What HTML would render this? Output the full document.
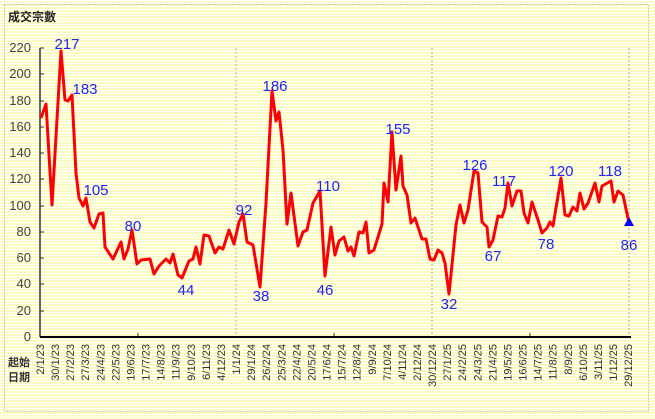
<!DOCTYPE html>
<html><head><meta charset="utf-8"><style>
html,body{margin:0;padding:0;background:#fff;}
#c{position:relative;width:655px;height:419px;overflow:hidden;background:repeating-linear-gradient(to bottom,#ffffff 0px,#ffffff 1px,#fbfbc4 1px,#fbfbc4 3px);}
svg{position:absolute;left:0;top:0;}
</style></head><body><div id="c">
<svg width="655" height="419" xmlns="http://www.w3.org/2000/svg" font-family="Liberation Sans, 'Noto Sans CJK TC', sans-serif">
<rect x="4.5" y="4.5" width="644" height="407" fill="none" stroke="#999" stroke-dasharray="1,2"/>
<text x="8" y="21" font-size="12" font-weight="bold" fill="#222" font-family="'Noto Sans CJK TC', sans-serif">成交宗數</text>
<g stroke="#aaa" stroke-dasharray="2,2">
<line x1="236" y1="48" x2="236" y2="337"/><line x1="432" y1="48" x2="432" y2="337"/><line x1="629" y1="48" x2="629" y2="337"/>
</g>
<g font-size="13" fill="#444" text-anchor="end">
<text x="31" y="52">220</text><text x="31" y="78">200</text><text x="31" y="105">180</text><text x="31" y="131">160</text><text x="31" y="157">140</text><text x="31" y="183">120</text><text x="31" y="210">100</text><text x="31" y="236">80</text><text x="31" y="262">60</text><text x="31" y="288">40</text><text x="31" y="315">20</text><text x="31" y="341">0</text>
</g>
<g stroke="#333" stroke-width="1">
<line x1="40" y1="48" x2="40" y2="337" stroke-width="1.5"/>
<line x1="40" y1="48" x2="44" y2="48"/><line x1="40" y1="74" x2="44" y2="74"/><line x1="40" y1="101" x2="44" y2="101"/><line x1="40" y1="127" x2="44" y2="127"/><line x1="40" y1="153" x2="44" y2="153"/><line x1="40" y1="179" x2="44" y2="179"/><line x1="40" y1="206" x2="44" y2="206"/><line x1="40" y1="232" x2="44" y2="232"/><line x1="40" y1="258" x2="44" y2="258"/><line x1="40" y1="284" x2="44" y2="284"/><line x1="40" y1="311" x2="44" y2="311"/>
<line x1="138" y1="333" x2="138" y2="337"/><line x1="334" y1="333" x2="334" y2="337"/><line x1="530" y1="333" x2="530" y2="337"/>
</g>
<line x1="40" y1="337" x2="631" y2="337" stroke="#000" stroke-width="2"/>
<polyline fill="none" stroke="#f00" stroke-width="3" stroke-linejoin="round" points="41,118 46,104 52,205 61,51 65,100 68,101 72,95 76,173 79,198 83,206 86,198 90,222 94,228 99,214 103,213 105,247 113,259 121,242 124,259 128,249 132,230 137,264 141,260 150,259 154,274 159,266 166,259 170,263 173,254 178,275 182,278 189,261 193,259 196,247 200,264 204,235 209,236 215,253 219,247 223,249 229,230 234,244 239,222 243,214 247,242 253,245 260,287 266,203 272,91 276,121 279,112 283,150 287,224 291,193 298,246 303,232 307,230 313,203 320,191 325,276 331,227 335,255 339,241 344,237 348,251 351,247 354,256 359,232 363,233 366,222 369,253 374,250 382,224 384,183 388,202 392,132 396,190 401,156 403,186 407,195 411,223 415,218 422,239 426,239 430,259 434,260 438,250 442,253 445,263 449,294 456,225 460,205 464,223 468,210 474,171 478,173 482,222 487,227 489,247 493,240 498,216 502,217 505,208 508,183 512,206 517,191 521,191 524,213 528,223 532,202 538,220 542,233 547,228 550,222 553,226 561,178 565,215 569,216 573,207 577,211 580,193 584,209 588,203 595,183 599,202 602,186 611,181 614,202 618,191 623,195 629,223"/>
<polygon points="629,217 624,226 634,226" fill="#00f"/>
<g font-size="15" fill="#22f" text-anchor="middle">
<text x="67" y="49">217</text><text x="85" y="94">183</text><text x="96" y="195">105</text><text x="133" y="231">80</text><text x="186" y="295">44</text><text x="244" y="215">92</text><text x="261" y="301">38</text><text x="275" y="91">186</text><text x="328" y="191">110</text><text x="325" y="295">46</text><text x="398" y="134">155</text><text x="449" y="309">32</text><text x="475" y="170">126</text><text x="493" y="261">67</text><text x="504" y="186">117</text><text x="546" y="249">78</text><text x="561" y="176">120</text><text x="610" y="176">118</text><text x="629" y="250">86</text>
</g>
<g font-size="11" fill="#333" font-weight="bold" font-family="'Noto Sans CJK TC', sans-serif"><text x="8" y="366">起始</text><text x="8" y="381">日期</text></g>
<g font-size="11" fill="#333" text-anchor="end" id="xl"></g>
</svg>
<script>
var L="2/1/23,30/1/23,27/2/23,27/3/23,24/4/23,22/5/23,19/6/23,17/7/23,14/8/23,11/9/23,9/10/23,6/11/23,4/12/23,1/1/24,29/1/24,26/2/24,25/3/24,22/4/24,20/5/24,17/6/24,15/7/24,12/8/24,9/9/24,7/10/24,4/11/24,2/12/24,30/12/24,27/1/25,24/2/25,24/3/25,21/4/25,19/5/25,16/6/25,14/7/25,11/8/25,8/9/25,6/10/25,3/11/25,1/12/25,29/12/25".split(",");
var g=document.getElementById("xl"),s="";
for(var i=0;i<L.length;i++){var x=(40+i*15.08+4).toFixed(1);s+='<text transform="translate('+x+',344) rotate(-90)">'+L[i]+'</text>';}
g.innerHTML=s;
</script>
</div></body></html>
